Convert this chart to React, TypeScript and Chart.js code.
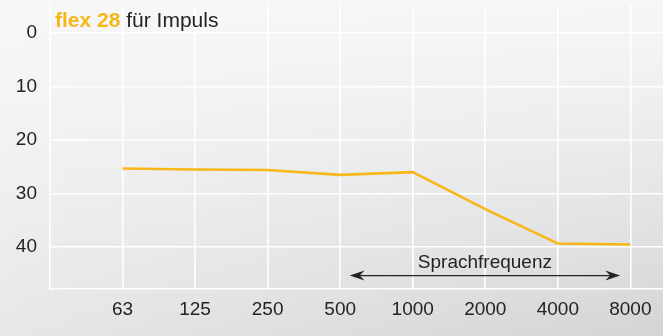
import React, { useEffect, useRef } from "react";
import { Chart, registerables } from "chart.js";

Chart.register(...registerables);

const categories = ["63", "125", "250", "500", "1000", "2000", "4000", "8000"];
const values = [25.3, 25.5, 25.6, 26.5, 26.0, 32.9, 39.3, 39.5];
const yTicks = [0, 10, 20, 30, 40];
const titleBold = "flex 28";
const titleRest = " für Impuls";
const rangeLabel = "Sprachfrequenz";
const rangeFrom = 3.13;
const rangeTo = 6.86;
const rangeY = 45.3;
const rangeLabelY = 42.9;

const FONT = "'Liberation Sans', Arial, Helvetica, sans-serif";
const YELLOW = "#f8b719";
const DARK = "#232323";

const bgPlugin = {
  id: "bg",
  beforeDraw(chart: any) {
    const { ctx, width, height } = chart;
    ctx.save();
    for (let y = 0; y < height; y++) {
      const v = Math.pow(y / (height - 1), 1.3);
      const l = 247 + (231 - 247) * v;
      const r = 245 + (211 - 245) * v;
      const g = ctx.createLinearGradient(0, 0, width, 0);
      const lb = Math.round(l);
      const rb = Math.round(r);
      g.addColorStop(0, `rgb(${lb},${lb},${lb + 1})`);
      g.addColorStop(1, `rgb(${rb},${rb + 1},${rb + 3})`);
      ctx.fillStyle = g;
      ctx.fillRect(0, y, width, 1);
    }
    ctx.restore();
  },
};

const overlayPlugin = {
  id: "overlay",
  afterDraw(chart: any) {
    const { ctx } = chart;
    const xs = chart.scales.x;
    const ys = chart.scales.y;
    ctx.save();
    ctx.textBaseline = "alphabetic";
    ctx.textAlign = "left";
    ctx.font = `bold 21px ${FONT}`;
    ctx.fillStyle = YELLOW;
    const tx = 55;
    const ty = 27;
    ctx.fillText(titleBold, tx, ty);
    const w = ctx.measureText(titleBold).width;
    ctx.font = `21px ${FONT}`;
    ctx.fillStyle = DARK;
    ctx.fillText(titleRest, tx + w, ty);

    const x1 = xs.getPixelForValue(rangeFrom);
    const x2 = xs.getPixelForValue(rangeTo);
    const y = ys.getPixelForValue(rangeY);
    ctx.strokeStyle = DARK;
    ctx.fillStyle = DARK;
    ctx.lineWidth = 1.3;
    ctx.beginPath();
    ctx.moveTo(x1 + 4, y);
    ctx.lineTo(x2 - 4, y);
    ctx.stroke();
    const head = (x: number, dir: number) => {
      ctx.beginPath();
      ctx.moveTo(x, y);
      ctx.lineTo(x + dir * 15, y - 5);
      ctx.lineTo(x + dir * 10, y);
      ctx.lineTo(x + dir * 15, y + 5);
      ctx.closePath();
      ctx.fill();
    };
    head(x1, 1);
    head(x2, -1);
    ctx.font = `19px ${FONT}`;
    ctx.textAlign = "center";
    ctx.textBaseline = "middle";
    ctx.fillText(rangeLabel, xs.getPixelForValue((rangeFrom + rangeTo) / 2), ys.getPixelForValue(rangeLabelY));
    ctx.restore();
  },
};

export default function App() {
  const ref = useRef<HTMLCanvasElement>(null);
  useEffect(() => {
    document.body.style.margin = "0";
    const chart = new Chart(ref.current!, {
      type: "line",
      data: {
        datasets: [
          {
            data: values.map((v, i) => ({ x: i, y: v })),
            borderColor: YELLOW,
            borderWidth: 2.6,
            pointRadius: 0,
            tension: 0,
            fill: false,
          },
        ],
      },
      options: {
        animation: false,
        responsive: false,
        maintainAspectRatio: false,
        layout: { padding: { top: 5, right: 0, left: 0, bottom: 0 } },
        plugins: { legend: { display: false }, tooltip: { enabled: false } },
        scales: {
          x: {
            type: "linear",
            min: -1,
            max: 7.45,
            afterBuildTicks: (s: any) => {
              s.ticks = categories.map((_, i) => ({ value: i }));
            },
            afterFit: (s: any) => {
              s.height = 47;
              s.paddingLeft = 0;
              s.paddingRight = 0;
            },
            ticks: {
              callback: (v: any) => categories[v as number] ?? "",
              color: DARK,
              font: { family: FONT, size: 19 },
              padding: 9,
              maxRotation: 0,
              autoSkip: false,
            },
            grid: { color: "#ffffff", lineWidth: 1.6, drawTicks: false },
            border: { color: "#ffffff", width: 1.6 },
          },
          y: {
            type: "linear",
            reverse: true,
            min: -5.2,
            max: 47.8,
            afterBuildTicks: (s: any) => {
              s.ticks = yTicks.map((v) => ({ value: v }));
            },
            afterFit: (s: any) => {
              s.width = 50;
              s.paddingTop = 0;
              s.paddingBottom = 0;
            },
            ticks: {
              color: DARK,
              font: { family: FONT, size: 19 },
              padding: 13,
            },
            grid: { color: "#ffffff", lineWidth: 1.6, drawTicks: false },
            border: { color: "#ffffff", width: 1.6 },
          },
        },
      },
      plugins: [bgPlugin, overlayPlugin],
    } as any);
    return () => chart.destroy();
  }, []);
  return (
    <div style={{ position: "absolute", left: 0, top: 0, width: 663, height: 336 }}>
      <canvas ref={ref} width={663} height={336} style={{ width: 663, height: 336 }} />
    </div>
  );
}
